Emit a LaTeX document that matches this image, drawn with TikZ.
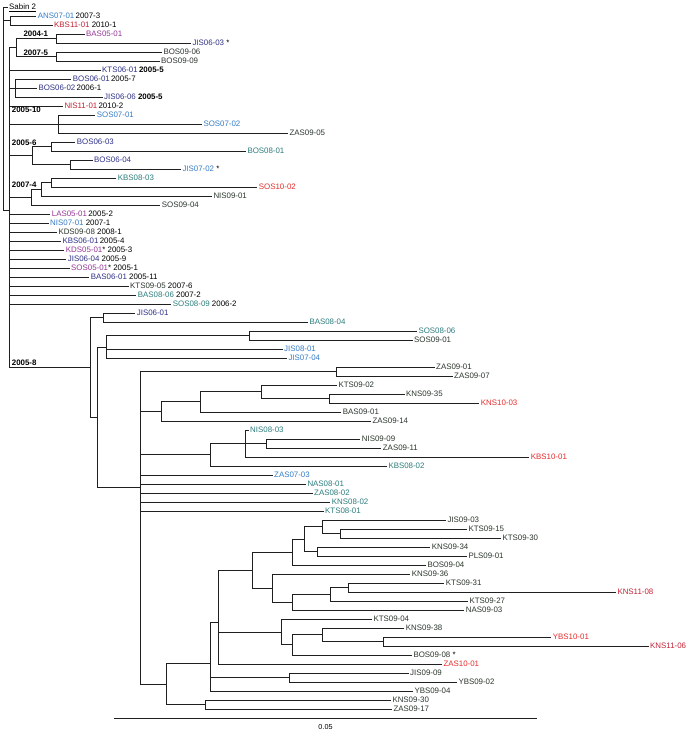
\documentclass[tikz,border=0pt]{standalone}
\usepackage{fontspec}
\setmainfont{Liberation Sans}
\definecolor{c05}{RGB}{150,55,150}
\definecolor{c06}{RGB}{48,50,135}
\definecolor{c07}{RGB}{55,125,200}
\definecolor{c08}{RGB}{45,125,125}
\definecolor{c09}{RGB}{45,55,45}
\definecolor{c10}{RGB}{232,45,45}
\definecolor{c11}{RGB}{195,35,55}
\newcommand{\tnode}[4]{\coordinate (#1) at (#3,#4); \draw[br] (#2) |- (#1);}
\newcommand{\tleaf}[5]{\node[lf] (#1) at ({#4-1.5},{7+9*#3}) {#5}; \draw[br] (#2) |- (#1.west);}
\begin{document}
\begin{tikzpicture}[x=1pt,y=-1pt,
  br/.style={line width=1pt, draw=black!88},
  lf/.style={anchor=west, inner xsep=1.5pt, inner ysep=0pt, text height=5.6pt, text depth=0pt, font=\fontsize{7.9}{9}\selectfont},
  lbl/.style={anchor=west, inner sep=0pt, text height=5.6pt, text depth=0pt, font=\fontsize{7.9}{9}\selectfont\bfseries}]
\fill[white] (0,0) rectangle (691,731);
\useasboundingbox (0,0) rectangle (691,731);
% root
\coordinate (R) at (3.3,7);
\node[lf] (t0) at (7.5,7) {\underline{Sabin 2}};
\draw[br] (R) |- (t0.west);
\tnode{M}{R}{9.3}{210.7}
\tnode{AK}{R}{10}{20.5}
\tleaf{t1}{AK}{1}{37.7}{\textcolor{c07}{ANS07-01}\,2007-3}
\tleaf{t2}{AK}{2}{54}{\textcolor{c11}{KBS11-01} 2010-1}
\tnode{N1}{M}{16.7}{47}
\tnode{N2}{N1}{56.7}{38.5}
\tnode{N3}{N1}{56.7}{56.5}
\tleaf{t3}{N2}{3}{86}{\textcolor{c05}{BAS05-01}}
\tleaf{t4}{N2}{4}{192.3}{\textcolor{c06}{JIS06-03} *}
\tleaf{t5}{N3}{5}{163.3}{\textcolor{c09}{BOS09-06}}
\tleaf{t6}{N3}{6}{161}{\textcolor{c09}{BOS09-09}}
\tleaf{t7}{M}{7}{102}{\textcolor{c06}{KTS06-01}\,\textbf{2005-5}}
\tnode{N4}{M}{15}{88}
\tleaf{t8}{N4}{8}{72.7}{\textcolor{c06}{BOS06-01}\,2005-7}
\tleaf{t9}{N4}{9}{38.3}{\textcolor{c06}{BOS06-02}\,2006-1}
\tleaf{t10}{N4}{10}{104}{\textcolor{c06}{JIS06-06} \textbf{2005-5}}
\tleaf{t11}{M}{11}{64.3}{\textcolor{c11}{NIS11-01}\,2010-2}
\tnode{N5}{M}{58.3}{124}
\tleaf{t12}{N5}{12}{96.7}{\textcolor{c07}{SOS07-01}}
\tleaf{t13}{N5}{13}{203.3}{\textcolor{c07}{SOS07-02}}
\tleaf{t14}{N5}{14}{289.3}{\textcolor{c09}{ZAS09-05}}
\tnode{N6}{M}{32.3}{155.5}
\tnode{N7}{N6}{51.7}{146.5}
\tnode{N8}{N6}{70.7}{164.5}
\tleaf{t15}{N7}{15}{76.7}{\textcolor{c06}{BOS06-03}}
\tleaf{t16}{N7}{16}{247.3}{\textcolor{c08}{BOS08-01}}
\tleaf{t17}{N8}{17}{94}{\textcolor{c06}{BOS06-04}}
\tleaf{t18}{N8}{18}{182.3}{\textcolor{c07}{JIS07-02} *}
\tnode{N9}{M}{31.7}{197.1}
\tnode{N10}{N9}{41.7}{189.25}
\tnode{N11}{N10}{51.7}{182.5}
\tleaf{t19}{N11}{19}{117.7}{\textcolor{c08}{KBS08-03}}
\tleaf{t20}{N11}{20}{258.7}{\textcolor{c10}{SOS10-02}}
\tleaf{t21}{N10}{21}{213.3}{\textcolor{c09}{NIS09-01}}
\tleaf{t22}{N9}{22}{161.7}{\textcolor{c09}{SOS09-04}}
\tleaf{t23}{M}{23}{51.7}{\textcolor{c05}{LAS05-01}\,2005-2}
\tleaf{t24}{M}{24}{50}{\textcolor{c07}{NIS07-01} 2007-1}
\tleaf{t25}{M}{25}{58.3}{\textcolor{c09}{KDS09-08} 2008-1}
\tleaf{t26}{M}{26}{62.3}{\textcolor{c06}{KBS06-01}\,2005-4}
\tleaf{t27}{M}{27}{65.7}{\textcolor{c05}{KDS05-01}* 2005-3}
\tleaf{t28}{M}{28}{67.7}{\textcolor{c06}{JIS06-04} 2005-9}
\tleaf{t29}{M}{29}{71}{\textcolor{c05}{SOS05-01}* 2005-1}
\tleaf{t30}{M}{30}{90.7}{\textcolor{c06}{BAS06-01} 2005-11}
\tleaf{t31}{M}{31}{130}{\textcolor{c09}{KTS09-05} 2007-6}
\tleaf{t32}{M}{32}{137.7}{\textcolor{c08}{BAS08-06} 2007-2}
\tleaf{t33}{M}{33}{172.7}{\textcolor{c08}{SOS08-09} 2006-2}
\tnode{P1}{M}{90.7}{367.5}
\tnode{P2}{P1}{103.3}{317.5}
\tleaf{t34}{P2}{34}{136.7}{\textcolor{c06}{JIS06-01}}
\tleaf{t35}{P2}{35}{309.3}{\textcolor{c08}{BAS08-04}}
\tnode{P3}{P1}{97.3}{417.4}
\tnode{P4}{P3}{106}{347.5}
\tnode{P5}{P4}{249.3}{335.5}
\tleaf{t36}{P5}{36}{418.3}{\textcolor{c08}{SOS08-06}}
\tleaf{t37}{P5}{37}{414}{\textcolor{c09}{SOS09-01}}
\tleaf{t38}{P4}{38}{284}{\textcolor{c07}{JIS08-01}}
\tleaf{t39}{P4}{39}{288.3}{\textcolor{c07}{JIS07-04}}
\tnode{Q}{P3}{140}{487.4}
\tnode{Q1}{Q}{336}{371.5}
\tleaf{t40}{Q1}{40}{436}{\textcolor{c09}{ZAS09-01}}
\tleaf{t41}{Q1}{41}{454}{\textcolor{c09}{ZAS09-07}}
\tnode{Q2}{Q}{161.7}{411.5}
\tnode{Q3}{Q2}{200.7}{401.9}
\tnode{Q4}{Q3}{261.7}{391.75}
\tleaf{t42}{Q4}{42}{338.3}{\textcolor{c09}{KTS09-02}}
\tnode{Q5}{Q4}{329.3}{398.5}
\tleaf{t43}{Q5}{43}{406}{\textcolor{c09}{KNS09-35}}
\tleaf{t44}{Q5}{44}{480.7}{\textcolor{c10}{KNS10-03}}
\tleaf{t45}{Q3}{45}{342.7}{\textcolor{c09}{BAS09-01}}
\tleaf{t46}{Q2}{46}{372.3}{\textcolor{c09}{ZAS09-14}}
\tnode{Q6}{Q}{210.7}{454.75}
\tnode{Q7}{Q6}{245}{443.5}
\tleaf{t47}{Q7}{47}{250}{\textcolor{c08}{NIS08-03}}
\tnode{Q8}{Q7}{266.7}{443.5}
\tleaf{t48}{Q8}{48}{361.7}{\textcolor{c09}{NIS09-09}}
\tleaf{t49}{Q8}{49}{382.7}{\textcolor{c09}{ZAS09-11}}
\tleaf{t50}{Q7}{50}{530.7}{\textcolor{c10}{KBS10-01}}
\tleaf{t51}{Q6}{51}{388.3}{\textcolor{c08}{KBS08-02}}
\tleaf{t52}{Q}{52}{274}{\textcolor{c07}{ZAS07-03}}
\tleaf{t53}{Q}{53}{307.3}{\textcolor{c08}{NAS08-01}}
\tleaf{t54}{Q}{54}{314}{\textcolor{c08}{ZAS08-02}}
\tleaf{t55}{Q}{55}{331.7}{\textcolor{c08}{KNS08-02}}
\tleaf{t56}{Q}{56}{325}{\textcolor{c08}{KTS08-01}}
\tnode{S1}{Q}{166.7}{684}
\tnode{S2}{S1}{210}{663.5}
\tnode{S3}{S2}{218.3}{622}
\tnode{S4}{S3}{252.3}{570}
\tnode{S5}{S4}{292.3}{552}
\tnode{S6}{S5}{304}{539.1}
\tnode{S7}{S6}{322.7}{526.75}
\tleaf{t57}{S7}{57}{447.3}{\textcolor{c09}{JIS09-03}}
\tnode{S8}{S7}{340}{533.5}
\tleaf{t58}{S8}{58}{468.3}{\textcolor{c09}{KTS09-15}}
\tleaf{t59}{S8}{59}{502.3}{\textcolor{c09}{KTS09-30}}
\tnode{S9}{S6}{317.3}{551.5}
\tleaf{t60}{S9}{60}{431.7}{\textcolor{c09}{KNS09-34}}
\tleaf{t61}{S9}{61}{468.3}{\textcolor{c09}{PLS09-01}}
\tleaf{t62}{S5}{62}{427.3}{\textcolor{c09}{BOS09-04}}
\tnode{S10}{S4}{272.7}{588}
\tleaf{t63}{S10}{63}{411.7}{\textcolor{c09}{KNS09-36}}
\tnode{S11}{S10}{292.7}{602.1}
\tnode{S12}{S11}{330}{594.25}
\tnode{S13}{S12}{348.3}{587.5}
\tleaf{t64}{S13}{64}{445.7}{\textcolor{c09}{KTS09-31}}
\tleaf{t65}{S13}{65}{617.3}{\textcolor{c11}{KNS11-08}}
\tleaf{t66}{S12}{66}{469.3}{\textcolor{c09}{KTS09-27}}
\tleaf{t67}{S11}{67}{465.7}{\textcolor{c09}{NAS09-03}}
\tnode{S14}{S3}{281.7}{632}
\tleaf{t68}{S14}{68}{373.3}{\textcolor{c09}{KTS09-04}}
\tnode{S15}{S14}{292.7}{644.9}
\tnode{S16}{S15}{322.7}{634.75}
\tleaf{t69}{S16}{69}{405.7}{\textcolor{c09}{KNS09-38}}
\tnode{S17}{S16}{383.3}{641.5}
\tleaf{t70}{S17}{70}{552.7}{\textcolor{c10}{YBS10-01}}
\tleaf{t71}{S17}{71}{650}{\textcolor{c11}{KNS11-06}}
\tleaf{t72}{S15}{72}{413.3}{\textcolor{c09}{BOS09-08} *}
\tleaf{t73}{S3}{73}{443.3}{\textcolor{c10}{ZAS10-01}}
\tnode{S18}{S2}{289.3}{677.5}
\tleaf{t74}{S18}{74}{410}{\textcolor{c09}{JIS09-09}}
\tleaf{t75}{S18}{75}{458.3}{\textcolor{c09}{YBS09-02}}
\tleaf{t76}{S2}{76}{414.3}{\textcolor{c09}{YBS09-04}}
\tnode{S19}{S1}{205}{704.5}
\tleaf{t77}{S19}{77}{392.3}{\textcolor{c09}{KNS09-30}}
\tleaf{t78}{S19}{78}{393.3}{\textcolor{c09}{ZAS09-17}}
% clade labels
\node[lbl] (b1) at (23.3,33.7) {2004-1};
\node[lbl] (b2) at (23.3,52.3) {2007-5};
\node[lbl] (b3) at (11.7,110) {2005-10};
\node[lbl] (b4) at (11.7,142.3) {2005-6};
\node[lbl] (b5) at (11.7,185) {2007-4};
\node[lbl] (b6) at (11.7,362.5) {2005-8};
% scale bar
\coordinate (sbL) at (114.3,718.3);
\coordinate (sbR) at (536.7,718.3);
\draw[line width=1.3pt, draw=black!88] (sbL) -- (sbR);
\node[font=\fontsize{7.2}{8}\selectfont, inner sep=0pt] (sbt) at (325.5,727.3) {0.05};
\end{tikzpicture}
\end{document}
